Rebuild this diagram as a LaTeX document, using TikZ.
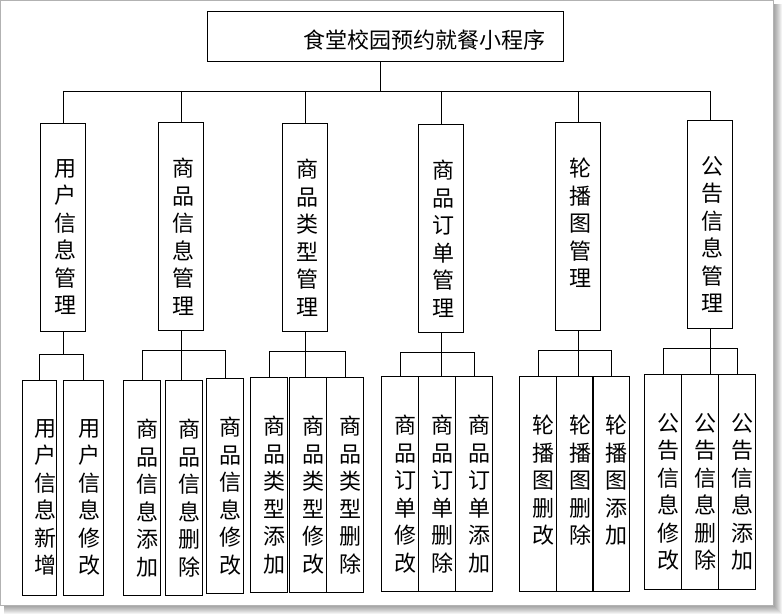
\documentclass[tikz,border=0pt]{standalone}
\usepackage{fontspec}
\newfontfamily\cjk{Noto Sans CJK SC}
\usetikzlibrary{positioning,calc}

\tikzset{
  every node/.style={font=\cjk\fontsize{22pt}{27.5pt}\selectfont},
  frame/.style={draw=black, line width=0.9pt, inner sep=0pt},
  modbox/.style={frame, anchor=north west, minimum width=45pt, minimum height=208pt},
  leafbox/.style={frame, anchor=north west, minimum width=37pt, minimum height=215pt},
  vtext/.style={anchor=north, align=center, inner sep=0pt},
  modtext/.style={vtext, xshift=3pt, yshift=-36pt},
  leaftext/.style={vtext, xshift=6pt, yshift=-39pt},
  link/.style={line width=0.9pt}
}

\begin{document}
\begin{tikzpicture}[x=1pt, y=-1pt]
  \useasboundingbox (0,0) rectangle (783,615);
  % page with shadow
  \foreach \s in {1,...,9}
    \fill[black, opacity=0.05] (4,4) rectangle (773+\s,605+\s);
  \filldraw[fill=white, draw=black!30, line width=0.8pt] (0.4,0.4) rectangle (773,605);

  % root
  \node[frame, anchor=north west, minimum width=356pt, minimum height=50pt,
    label={[inner sep=0pt, xshift=39pt, yshift=-4pt]center:食堂校园预约就餐小程序}] (root) at (207,11) {};

  % modules
  \node[modbox, label={[modtext]north:用\\户\\信\\息\\管\\理}] (ui) at (40,123) {};
  \node[modbox, label={[modtext]north:商\\品\\信\\息\\管\\理}] (gi) at (158,122) {};
  \node[modbox, label={[modtext]north:商\\品\\类\\型\\管\\理}] (gt) at (282,123) {};
  \node[modbox, label={[modtext]north:商\\品\\订\\单\\管\\理}] (go) at (418,124) {};
  \node[modbox, label={[modtext]north:轮\\播\\图\\管\\理}] (lb) at (555,122) {};
  \node[modbox, label={[modtext]north:公\\告\\信\\息\\管\\理}] (gg) at (687,120) {};

  % functions
  \node[leafbox, minimum width=34pt, label={[leaftext]north:用\\户\\信\\息\\新\\增}] (uia) at (22,380) {};
  \node[leafbox, minimum width=40pt, label={[leaftext]north:用\\户\\信\\息\\修\\改}] (uib) at (63,380) {};
  \node[leafbox, label={[leaftext]north:商\\品\\信\\息\\添\\加}] (gia) at (123,380) {};
  \node[leafbox, label={[leaftext]north:商\\品\\信\\息\\删\\除}] (gib) at (165,380) {};
  \node[leafbox, label={[leaftext]north:商\\品\\信\\息\\修\\改}] (gic) at (206,378) {};
  \node[leafbox, label={[leaftext]north:商\\品\\类\\型\\添\\加}] (gta) at (250,377) {};
  \node[leafbox, label={[leaftext]north:商\\品\\类\\型\\修\\改}] (gtb) at (289,377) {};
  \node[leafbox, label={[leaftext]north:商\\品\\类\\型\\删\\除}] (gtc) at (326,377) {};
  \node[leafbox, label={[leaftext]north:商\\品\\订\\单\\修\\改}] (goa) at (381,376) {};
  \node[leafbox, label={[leaftext]north:商\\品\\订\\单\\删\\除}] (gob) at (418,376) {};
  \node[leafbox, label={[leaftext]north:商\\品\\订\\单\\添\\加}] (goc) at (455,376) {};
  \node[leafbox, label={[leaftext]north:轮\\播\\图\\删\\改}] (lba) at (519,376) {};
  \node[leafbox, label={[leaftext]north:轮\\播\\图\\删\\除}] (lbb) at (556,376) {};
  \node[leafbox, label={[leaftext]north:轮\\播\\图\\添\\加}] (lbc) at (592,376) {};
  \node[leafbox, label={[leaftext]north:公\\告\\信\\息\\修\\改}] (gga) at (644,374) {};
  \node[leafbox, label={[leaftext]north:公\\告\\信\\息\\删\\除}] (ggb) at (681,374) {};
  \node[leafbox, label={[leaftext]north:公\\告\\信\\息\\添\\加}] (ggc) at (718,374) {};

  % root to modules
  \coordinate (bus) at (380,91);
  \coordinate (stem) at ([xshift=-5pt]root.south);
  \draw[link] (stem) -- (stem |- bus);
  \draw[link] (ui.north |- bus) -- (gg.north |- bus);
  \foreach \m in {ui,gi,gt,go,lb,gg}
    \draw[link] (\m.north |- bus) -- (\m.north);

  % modules to functions
  \coordinate (sb) at ([yshift=-23pt]ui.south);
  \draw[link] (ui.south) -- (sb);
  \draw[link] (uia.north) |- (sb) -| (uib.north);
  \foreach \p/\a/\b/\c in {gi/gia/gib/gic, gt/gta/gtb/gtc, go/goa/gob/goc, lb/lba/lbb/lbc, gg/gga/ggb/ggc} {
    \coordinate (sb) at ([yshift=-20pt]\p.south);
    \draw[link] (\p.south) -- (\p.south |- \b.north);
    \draw[link] (\a.north) |- (sb) -| (\c.north);
  }
\end{tikzpicture}
\end{document}
